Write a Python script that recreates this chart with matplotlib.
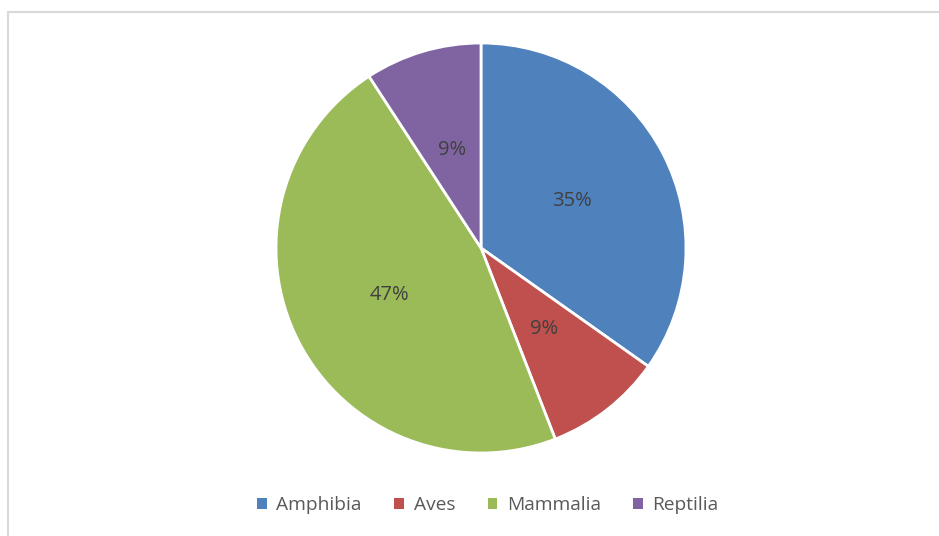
import matplotlib
matplotlib.use("Agg")
import matplotlib.pyplot as plt
from matplotlib.patches import Rectangle, Patch

categories = ["Amphibia", "Aves", "Mammalia", "Reptilia"]
values = [34.8, 9.3, 46.7, 9.2]
colors = ["#4F81BD", "#C0504D", "#9BBB59", "#8064A2"]

plt.rcParams['font.family'] = ['Open Sans', 'DejaVu Sans']

W, H = 939, 536
fig = plt.figure(figsize=(W / 100, H / 100), dpi=100)
fig.patch.set_facecolor("white")

# chart frame
fig.patches.append(Rectangle((8 / W, -0.1), 1.2, (H - 12) / H + 0.1, transform=fig.transFigure,
                             fill=False, edgecolor="#D9D9D9", linewidth=1.5, zorder=0))

cx, cy, r = 481, 248, 205
ax = fig.add_axes([(cx - r) / W, (H - cy - r) / H, 2 * r / W, 2 * r / H])
wedges, texts, autotexts = ax.pie(
    values, colors=colors, startangle=90, counterclock=False, radius=1,
    autopct=lambda p: f"{p:.0f}%", pctdistance=0.5,
    wedgeprops=dict(edgecolor="white", linewidth=2),
    textprops=dict(color="#404040", fontsize=14.5))
ax.set_xlim(-1, 1)
ax.set_ylim(-1, 1)
ax.set_aspect("equal")
ax.axis("off")

handles = [Patch(facecolor=c, edgecolor="none") for c in colors]
leg = fig.legend(handles, categories, loc="center", bbox_to_anchor=(488 / W, 1 - 505 / H),
                 ncol=4, frameon=False, fontsize=13.8, handlelength=0.5, handleheight=0.5,
                 handletextpad=0.5, columnspacing=1.7, labelcolor="#595959")

fig.savefig("out.png", dpi=100, facecolor="white")
